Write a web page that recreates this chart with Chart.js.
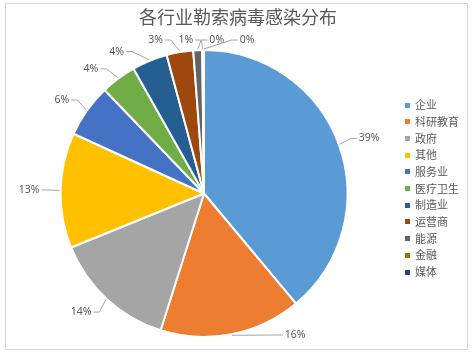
<!DOCTYPE html>
<html>
<head>
<meta charset="utf-8">
<script src="https://cdn.jsdelivr.net/npm/chart.js@4"></script>
<style>
  body { margin: 0; background: #fff; }
  canvas { display: block; }
</style>
</head>
<body>
<canvas id="pie" width="472" height="355"></canvas>
<script>
// ---------- data ----------
const SECTORS = ["企业", "科研教育", "政府", "其他", "服务业", "医疗卫生", "制造业", "运营商", "能源", "金融", "媒体"];
const SHARES  = [39, 16, 14, 13, 6, 4, 4, 3, 1, 0.1, 0.1];
const COLORS  = ['#5B9BD5','#ED7D31','#A5A5A5','#FFC000','#4472C4','#70AD47','#255E91','#9E480E','#636363','#997300','#264478'];
const TITLE   = "各行业勒索病毒感染分布";

const GREY_TXT = '#595959';
const CJK = '"Noto Sans CJK SC", sans-serif';
const PCT_FONT = '10.5px "Noto Sans", sans-serif';

// white page, light frame, title and the legend column on the right
const framePlugin = {
  id: 'frame',
  beforeDraw(chart){
    const c = chart.ctx;
    c.save();
    c.fillStyle = '#fff';
    c.fillRect(0, 0, chart.width, chart.height);
    c.strokeStyle = '#d9d9d9';
    c.lineWidth = 1;
    c.strokeRect(5.5, 3.5, 462, 346);
    c.restore();
  },
  afterDraw(chart){
    const c = chart.ctx;
    const ds = chart.data.datasets[0];
    c.save();
    c.textBaseline = 'middle';
    c.fillStyle = GREY_TXT;
    c.textAlign = 'center';
    c.font = '18px ' + CJK;
    c.fillText(TITLE, 238, 17.5);

    c.textAlign = 'left';
    c.font = '11px ' + CJK;
    chart.data.labels.forEach((lab, i) => {
      const y = 105 + i*16.7;
      c.fillStyle = ds.backgroundColor[i];
      c.fillRect(405, Math.round(y - 2.5), 5, 5);
      c.fillStyle = GREY_TXT;
      c.fillText(lab, 415, y);
    });
    c.restore();
  }
};

// percentage labels outside the pie with leader lines (Excel "best fit" look)
const pctLabels = {
  id: 'pctLabels',
  afterDatasetsDraw(chart){
    const meta = chart.getDatasetMeta(0);
    const data = chart.data.datasets[0].data;
    const total = data.reduce((a,b) => a+b, 0);
    const c = chart.ctx;
    const area = chart.chartArea;

    const items = meta.data.map((arc,i) => ({
      i, mid: (arc.startAngle + arc.endAngle)/2,
      a: (arc.startAngle + arc.endAngle)/2,
      x: arc.x, y: arc.y, r: arc.outerRadius
    }));

    // spread crowded labels apart
    const gap = 11 * Math.PI/180;
    for (let it = 0; it < 80; it++){
      for (let k = 1; k < items.length; k++){
        const d = items[k].a - items[k-1].a;
        if (d < gap){ const p = (gap - d)/2; items[k].a += p; items[k-1].a -= p; }
      }
    }

    c.save();
    c.font = PCT_FONT;
    c.textBaseline = 'middle';
    c.strokeStyle = '#a6a6a6';
    c.lineWidth = 1;
    items.forEach(it => {
      const cx = it.x, cy = it.y;
      const rr = it.r + 18;
      let ax = cx + rr*Math.cos(it.a);
      let ay = cy + rr*Math.sin(it.a);
      const maxY = area.bottom - 3, minY = area.top - 9;
      let topClamped = false;
      if (ay > maxY){
        ay = maxY;
        const dx = Math.sqrt(Math.max(rr*rr - (ay-cy)*(ay-cy), 0));
        ax = cx + (Math.cos(it.a) >= 0 ? dx : -dx);
      }
      if (ay < minY){ ay = minY; topClamped = true; }
      const s = ax >= cx ? 1 : -1;
      const ex = cx + (it.r + 1)*Math.cos(it.mid);
      const ey = cy + (it.r + 1)*Math.sin(it.mid);

      const txt = Math.round(data[it.i]/total*100) + '%';
      const hw = c.measureText(txt).width/2;
      // text centre and the point where the leader meets the text
      const tx = topClamped ? ax : ax + s*(hw + 3);
      const jx = tx - s*(hw + 2);

      c.beginPath();
      c.moveTo(ex, ey);
      c.lineTo(jx - s*6, ay);
      c.lineTo(jx, ay);
      c.stroke();

      c.fillStyle = GREY_TXT;
      c.textAlign = 'center';
      c.fillText(txt, tx, ay);
    });
    c.restore();
  }
};

new Chart(document.getElementById('pie'), {
  type: 'pie',
  data: {
    labels: SECTORS,
    datasets: [{
      data: SHARES,
      backgroundColor: COLORS,
      borderColor: '#fff',
      borderWidth: 2,
      hoverOffset: 0
    }]
  },
  options: {
    responsive: false,
    animation: false,
    events: [],
    layout: { padding: { left: 40, right: 104, top: 49, bottom: 17 } },
    plugins: {
      title: { display: false },
      legend: { display: false },
      tooltip: { enabled: false }
    }
  },
  plugins: [framePlugin, pctLabels]
});
</script>
</body>
</html>
